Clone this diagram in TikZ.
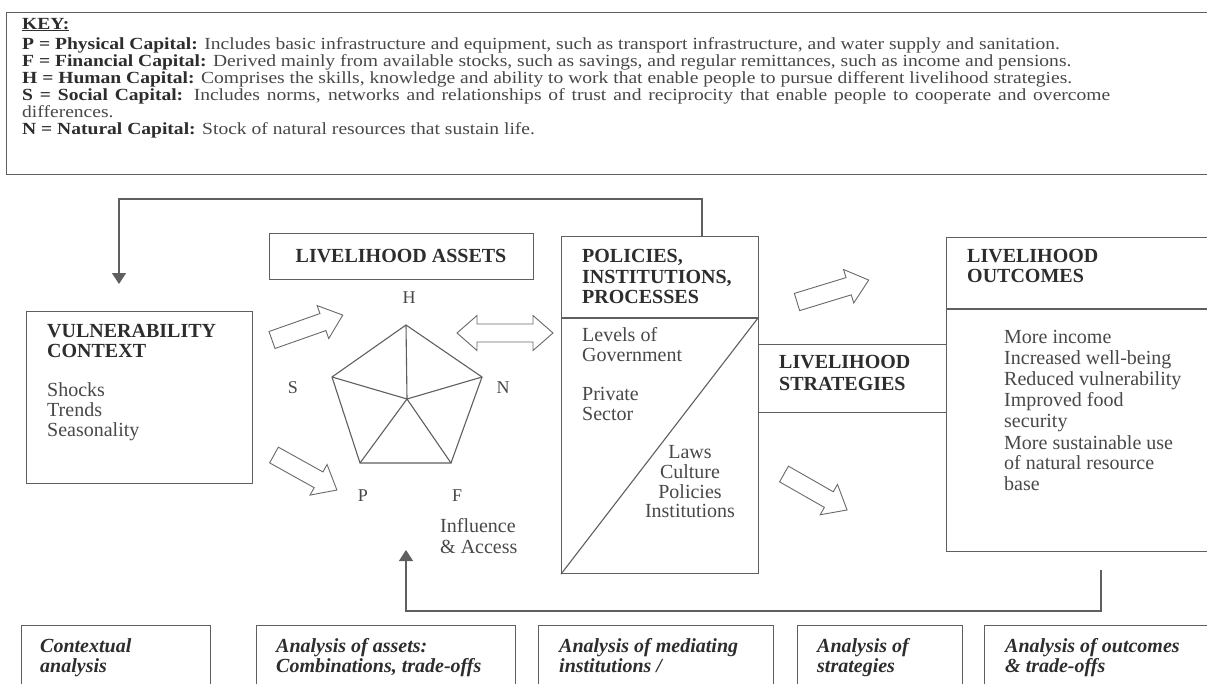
\documentclass[tikz,border=0pt]{standalone}
\usepackage{fontspec}
\setmainfont{Liberation Serif}
\newfontfamily\keyfont{Liberation Serif}[FakeStretch=1.15]
\usetikzlibrary{arrows.meta,calc}
\definecolor{linec}{RGB}{95,95,95}
\definecolor{arrc}{RGB}{105,105,105}
\definecolor{txtc}{RGB}{72,72,72}
\definecolor{boldc}{RGB}{45,45,45}
\newcommand\blockarr[3]{%
  \begin{scope}[shift={#1}, rotate=#2]
    \draw[barrow] (0,-9) -- ({#3-21},-9) -- ({#3-21},-17.5) -- (#3,0) -- ({#3-21},17.5) -- ({#3-21},9) -- (0,9) -- cycle;
  \end{scope}}
\tikzset{
  line/.style={draw=linec, line width=1.1pt},
  box/.style={draw=linec, line width=1.1pt, inner sep=0pt, anchor=north west},
  ktxt/.style={anchor=base west, inner sep=0pt, text=txtc, font=\keyfont\fontsize{17}{17}\selectfont},
  btxt/.style={anchor=base west, inner sep=0pt, text=boldc, font=\bfseries\fontsize{20}{20}\selectfont},
  rtxt/.style={anchor=base west, inner sep=0pt, text=txtc, font=\fontsize{20}{20}\selectfont},
  ctxt/.style={anchor=base, inner sep=0pt, text=txtc, font=\fontsize{20}{20}\selectfont},
  itxt/.style={anchor=base west, inner sep=0pt, text=boldc, font=\bfseries\itshape\fontsize{20}{20}\selectfont},
  lbl/.style={anchor=base, inner sep=0pt, text=txtc, font=\fontsize{18}{18}\selectfont},
  barrow/.style={draw=arrc, line width=0.9pt, fill=white, line join=miter},
  fbarrow/.style={line, -{Triangle[width=14pt,length=11pt]}},
}
\begin{document}
\begin{tikzpicture}[x=1pt,y=-1pt]
\useasboundingbox (0,0) rectangle (1207,683);
\clip (0,0) rectangle (1207,683);
\fill[white] (0,0) rectangle (1207,683);

% ---------- KEY ----------
\node[box, minimum width=1215pt, minimum height=162pt] (keybox) at (6,12) {};
\node[ktxt, text=boldc] (keyh) at (22,29) {\textbf{\underline{KEY:}}};
\node[ktxt] (k1) at (22,49) {\textbf{\color{boldc}P = Physical Capital:} Includes basic infrastructure and equipment, such as transport infrastructure, and water supply and sanitation.};
\node[ktxt] (k2) at (22,66) {\textbf{\color{boldc}F = Financial Capital:} Derived mainly from available stocks, such as savings, and regular remittances, such as income and pensions.};
\node[ktxt] (k3) at (22,83) {\textbf{\color{boldc}H = Human Capital:} Comprises the skills, knowledge and ability to work that enable people to pursue different livelihood strategies.};
\node[ktxt] (k4) at (22,100) {\makebox[1088pt][s]{\textbf{\color{boldc}S = Social Capital:} Includes norms, networks and relationships of trust and reciprocity that enable people to cooperate and overcome}};
\node[ktxt] (k5) at (22,117) {differences.};
\node[ktxt] (k6) at (22,134) {\textbf{\color{boldc}N = Natural Capital:} Stock of natural resources that sustain life.};

% ---------- main boxes ----------
\node[box, minimum width=226pt, minimum height=172pt] (vuln) at (26,311) {};
\node[box, minimum width=264pt, minimum height=46pt] (assets) at (269,233) {};
\node[box, minimum width=197pt, minimum height=337pt] (pol) at (561,236) {};
\node[box, minimum width=188pt, minimum height=68pt] (strat) at (758,344) {};
\node[box, minimum width=270pt, minimum height=314pt] (outc) at (946,237) {};

\coordinate (poldivL) at (561,318);
\coordinate (poldivR) at (758,318);
\draw[line] (poldivL) -- (poldivR);
\draw[line] (poldivR) -- (pol.south west);
\coordinate (outdivL) at (946,309);
\coordinate (outdivR) at (1216,309);
\draw[line] (outdivL) -- (outdivR);

% ---------- texts ----------
\node[btxt] (v1) at (47,337) {VULNERABILITY};
\node[btxt] (v2) at (47,357) {CONTEXT};
\node[rtxt] (v3) at (47,396) {Shocks};
\node[rtxt] (v4) at (47,416) {Trends};
\node[rtxt] (v5) at (47,436) {Seasonality};

\node[btxt, anchor=base] (a1) at (401,262) {LIVELIHOOD ASSETS};

\node[btxt] (p1) at (582,262) {POLICIES,};
\node[btxt] (p2) at (582,283) {INSTITUTIONS,};
\node[btxt] (p3) at (582,303) {PROCESSES};
\node[rtxt] (p4) at (582,341) {Levels of};
\node[rtxt] (p5) at (582,361) {Government};
\node[rtxt] (p6) at (582,400) {Private};
\node[rtxt] (p7) at (582,420) {Sector};
\node[ctxt] (p8) at (690,458) {Laws};
\node[ctxt] (p9) at (690,478) {Culture};
\node[ctxt] (p10) at (690,498) {Policies};
\node[ctxt] (p11) at (690,517) {Institutions};

\node[btxt] (s1) at (779,368) {LIVELIHOOD};
\node[btxt] (s2) at (779,390) {STRATEGIES};

\node[btxt] (o1) at (967,262) {LIVELIHOOD};
\node[btxt] (o2) at (967,282) {OUTCOMES};
\node[rtxt] (o3) at (1004,343) {More income};
\node[rtxt] (o4) at (1004,364) {Increased well-being};
\node[rtxt] (o5) at (1004,385) {Reduced vulnerability};
\node[rtxt] (o6) at (1004,406) {Improved food};
\node[rtxt] (o7) at (1004,427) {security};
\node[rtxt] (o8) at (1004,449) {More sustainable use};
\node[rtxt] (o9) at (1004,469) {of natural resource};
\node[rtxt] (o10) at (1004,490) {base};

\node[rtxt] (inf1) at (440,532) {Influence};
\node[rtxt] (inf2) at (440,553) {\& Access};

% ---------- pentagon ----------
\coordinate (pH) at (406,325);
\coordinate (pN) at (482,377);
\coordinate (pF) at (451,463);
\coordinate (pP) at (360,463);
\coordinate (pS) at (332,377);
\coordinate (pC) at (407,399);
\draw[line, line join=miter] (pH) -- (pN) -- (pF) -- (pP) -- (pS) -- cycle;
\draw[line] (pC) -- (pH) (pC) -- (pN) (pC) -- (pF) (pC) -- (pP) (pC) -- (pS);
\node[lbl] (lH) at (409,303) {H};
\node[lbl] (lS) at (293,393) {S};
\node[lbl] (lN) at (503,393) {N};
\node[lbl] (lP) at (363,501) {P};
\node[lbl] (lF) at (457,501) {F};

% ---------- block arrows ----------
\blockarr{(272,340)}{19.4}{75}
\blockarr{(274,455)}{-29.1}{72}
\blockarr{(797,302)}{17}{75}
\blockarr{(784,474)}{-29.7}{72.6}
\draw[barrow] (457,333) -- (477,315.5) -- (477,324) -- (533,324) -- (533,315.5) -- (553,333)
  -- (533,350.5) -- (533,342) -- (477,342) -- (477,350.5) -- cycle;

% ---------- feedback connectors ----------
\coordinate (fbstart) at (702,236);
\coordinate (fbend) at (119,284);
\draw[fbarrow] (fbstart) -- (702,199) -| (fbend);
\coordinate (ubstart) at (1101,570);
\coordinate (ubend) at (406,550);
\draw[fbarrow] (ubstart) |- (406,611) -- (ubend);

% ---------- bottom analysis boxes ----------
\node[box, minimum width=189pt, minimum height=90pt] (b1) at (21,625) {};
\node[box, minimum width=259pt, minimum height=90pt] (b2) at (256,625) {};
\node[box, minimum width=235pt, minimum height=90pt] (b3) at (538,625) {};
\node[box, minimum width=165pt, minimum height=90pt] (b4) at (797,625) {};
\node[box, minimum width=240pt, minimum height=90pt] (b5) at (984,625) {};
\node[itxt] (b1a) at (40,652) {Contextual};
\node[itxt] (b1b) at (40,672) {analysis};
\node[itxt] (b2a) at (276,652) {Analysis of assets:};
\node[itxt] (b2b) at (276,672) {Combinations, trade-offs};
\node[itxt] (b3a) at (559,652) {Analysis of mediating};
\node[itxt] (b3b) at (559,672) {institutions /};
\node[itxt] (b4a) at (817,652) {Analysis of};
\node[itxt] (b4b) at (817,672) {strategies};
\node[itxt] (b5a) at (1005,652) {Analysis of outcomes};
\node[itxt] (b5b) at (1005,672) {\& trade-offs};
\end{tikzpicture}
\end{document}
